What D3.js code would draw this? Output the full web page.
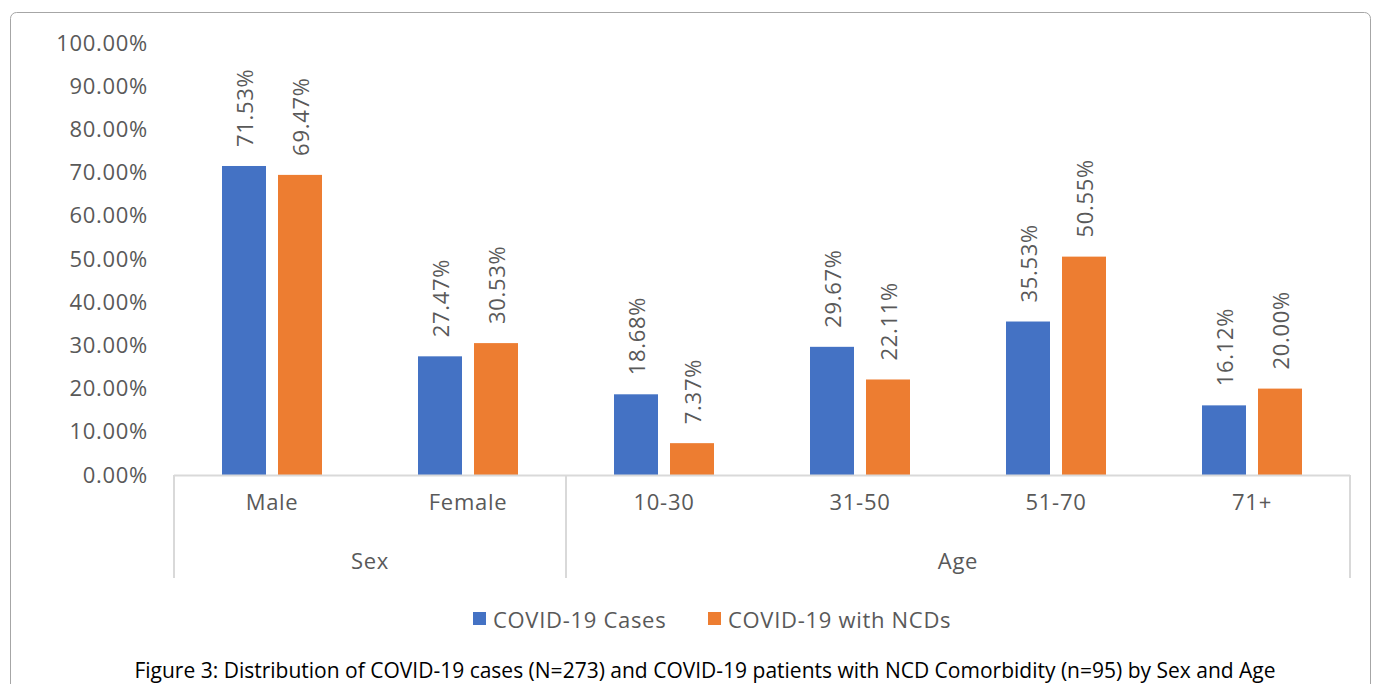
<!DOCTYPE html>
<html>
<head>
<meta charset="utf-8">
<script src="https://cdn.jsdelivr.net/npm/d3@7"></script>
<style>
  html, body { margin: 0; padding: 0; background: #fff; }
  svg { display: block; }
  text { font-family: "Open Sans", "Noto Sans", sans-serif; }
  .lbl { font-size: 22px; letter-spacing: 0.7px; }
</style>
</head>
<body>
<svg id="chart" width="1376" height="684"></svg>
<script>
// Categories, grouped under their parent heading
const categories = ["Male", "Female", "10-30", "31-50", "51-70", "71+"];
const groups = [
  { name: "Sex", members: ["Male", "Female"] },
  { name: "Age", members: ["10-30", "31-50", "51-70", "71+"] }
];
const seriesNames = ["COVID-19 Cases", "COVID-19 with NCDs"];
const casesValues = [71.53, 27.47, 18.68, 29.67, 35.53, 16.12];
const ncdValues = [69.47, 30.53, 7.37, 22.11, 50.55, 20.00];
const yTicks = [0, 10, 20, 30, 40, 50, 60, 70, 80, 90, 100];
const colors = ["#4472C4", "#ED7D31"];
const caption = "Figure 3: Distribution of COVID-19 cases (N=273) and COVID-19 patients with NCD Comorbidity (n=95) by Sex and Age";

(function draw() {
  const svg = d3.select("#chart");
  const textColor = "#595959";
  const lineColor = "#D9D9D9";

  // outer frame (rounded, runs past the bottom edge)
  svg.append("rect")
    .attr("x", 10.5).attr("y", 12.5)
    .attr("width", 1360).attr("height", 700)
    .attr("rx", 6).attr("ry", 6)
    .attr("fill", "none").attr("stroke", "#A6A6A6").attr("stroke-width", 1);

  const plotLeft = 174, plotRight = 1350, plotTop = 43, plotBottom = 475;

  const x = d3.scaleBand().domain(categories).range([plotLeft, plotRight]);
  const barW = 44, barGap = 12;
  const y = d3.scaleLinear().domain([0, 100]).range([plotBottom, plotTop]);

  // y axis labels
  const yAxis = d3.axisLeft(y).tickValues(yTicks).tickSize(0).tickPadding(0)
    .tickFormat(d => d.toFixed(2) + "%");
  const yg = svg.append("g").attr("transform", "translate(148,0)").call(yAxis);
  yg.select(".domain").remove();
  yg.attr("font-size", null).attr("font-family", null);
  yg.selectAll("text").attr("class", "lbl").attr("fill", textColor);

  // bars with rotated value labels
  const rows = categories.map((c, i) => ({ cat: c, vals: [casesValues[i], ncdValues[i]] }));
  const pairW = barW * 2 + barGap;
  const gBars = svg.append("g");
  rows.forEach(r => {
    const x0 = x(r.cat) + (x.bandwidth() - pairW) / 2;
    r.vals.forEach((v, j) => {
      const bx = x0 + j * (barW + barGap);
      gBars.append("rect")
        .attr("x", bx).attr("y", y(v))
        .attr("width", barW).attr("height", y(0) - y(v))
        .attr("fill", colors[j]);
      const cx = bx + barW / 2, ty = y(v) - 19;
      gBars.append("text")
        .attr("class", "lbl")
        .attr("transform", `translate(${cx},${ty}) rotate(-90)`)
        .attr("text-anchor", "start")
        .attr("dominant-baseline", "central")
        .attr("fill", textColor)
        .text(v.toFixed(2) + "%");
    });
  });

  // category axis
  const axisG = svg.append("g");
  axisG.append("line")
    .attr("x1", plotLeft).attr("x2", plotRight)
    .attr("y1", plotBottom + 0.5).attr("y2", plotBottom + 0.5)
    .attr("stroke", lineColor).attr("stroke-width", 2);

  const xAxis = d3.axisBottom(x).tickSize(0).tickPadding(0);
  const xg = svg.append("g").attr("transform", `translate(0,${plotBottom})`).call(xAxis);
  xg.select(".domain").remove();
  xg.attr("font-size", null).attr("font-family", null);
  xg.selectAll("text")
    .attr("class", "lbl")
    .attr("y", 35).attr("dy", 0)
    .attr("fill", textColor);

  // group separators and names
  const boundaries = [plotLeft];
  groups.forEach(g => {
    const last = g.members[g.members.length - 1];
    boundaries.push(x(last) + x.bandwidth());
  });
  boundaries.forEach(bx => {
    axisG.append("line")
      .attr("x1", bx).attr("x2", bx).attr("y1", plotBottom).attr("y2", 578)
      .attr("stroke", lineColor).attr("stroke-width", 2);
  });
  groups.forEach(g => {
    const x1 = x(g.members[0]);
    const x2 = x(g.members[g.members.length - 1]) + x.bandwidth();
    svg.append("text")
      .attr("class", "lbl")
      .attr("x", (x1 + x2) / 2).attr("y", 569)
      .attr("text-anchor", "middle")
      .attr("fill", textColor)
      .text(g.name);
  });

  // legend
  const legend = svg.append("g");
  const legendX = [473, 708];
  seriesNames.forEach((s, i) => {
    legend.append("rect")
      .attr("x", legendX[i]).attr("y", 612)
      .attr("width", 13).attr("height", 13)
      .attr("fill", colors[i]);
    legend.append("text")
      .attr("class", "lbl")
      .attr("x", legendX[i] + 20).attr("y", 619)
      .attr("dominant-baseline", "central")
      .attr("fill", textColor)
      .text(s);
  });

  // caption
  svg.append("text")
    .attr("x", 705).attr("y", 678)
    .attr("text-anchor", "middle")
    .attr("fill", "#000")
    .style("font-size", "21px")
    .text(caption);
})();
</script>
</body>
</html>
